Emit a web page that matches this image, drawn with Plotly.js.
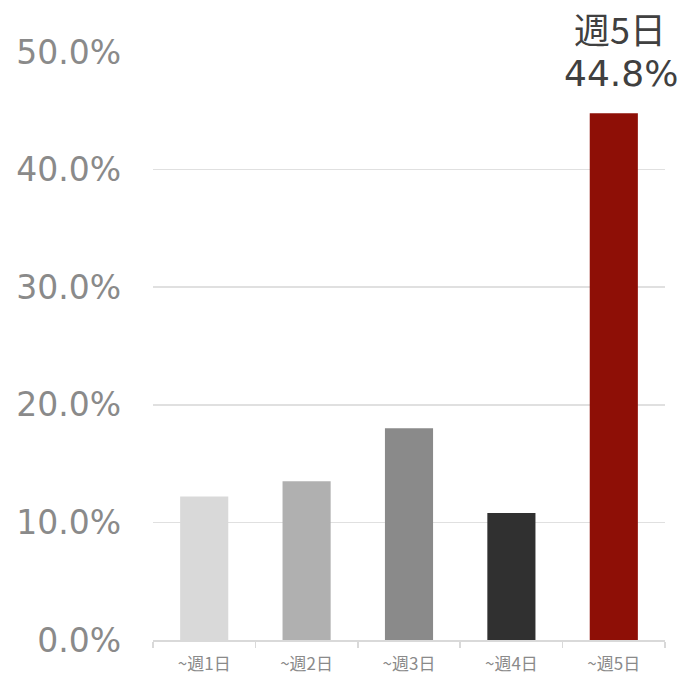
<!DOCTYPE html>
<html>
<head>
<meta charset="utf-8">
<script src="https://cdn.plot.ly/plotly-3.0.1.min.js"></script>
<style>html,body{margin:0;padding:0;background:#fff;}#chart{width:684px;height:674px;}</style>
</head>
<body>
<div id="chart"></div>
<script>
const categories = ["~週1日", "~週2日", "~週3日", "~週4日", "~週5日"];
const values = [12.2, 13.5, 18.0, 10.8, 44.8];
const barColors = ["#d9d9d9", "#b0b0b0", "#8a8a8a", "#303030", "#8e0f06"];
const yTickVals = [0, 10, 20, 30, 40, 50];
const yTickText = ["0.0%", "10.0%", "20.0%", "30.0%", "40.0%", "50.0%"];
const highlightLabel = "週5日";

const trace = {
  type: "bar",
  x: categories,
  y: values,
  marker: {color: barColors},
  width: 0.47,
  hoverinfo: "none"
};

const layout = {
  width: 684,
  height: 674,
  margin: {l: 153, r: 19, t: 52, b: 34, autoexpand: false},
  paper_bgcolor: "#ffffff",
  plot_bgcolor: "#ffffff",
  showlegend: false,
  font: {family: "DejaVu Sans, Verdana, sans-serif", color: "#8a8a8a"},
  xaxis: {
    type: "category",
    range: [-0.5, 4.5],
    automargin: false,
    showline: true,
    linecolor: "#d9d9d9",
    linewidth: 1.5,
    ticks: "outside",
    tickson: "boundaries",
    ticklen: 6,
    tickcolor: "#d9d9d9",
    tickwidth: 1.5,
    tickfont: {family: "Noto Sans CJK JP, sans-serif", size: 17, color: "#8a8a8a"},
    ticklabelstandoff: 8,
    showgrid: false,
    zeroline: false
  },
  yaxis: {
    range: [0, 50],
    automargin: false,
    tickvals: yTickVals,
    ticktext: yTickText,
    tickfont: {family: "DejaVu Sans, Verdana, sans-serif", size: 33, color: "#8a8a8a"},
    showgrid: true,
    gridcolor: "#e0e0e0",
    gridwidth: 1.5,
    zeroline: false,
    showline: false,
    ticks: "",
    ticklabelstandoff: 31
  },
  annotations: [{
    x: categories[4],
    xref: "x",
    y: 1,
    yref: "paper",
    yanchor: "middle",
    xanchor: "center",
    xshift: 6,
    yshift: 24,
    text: highlightLabel,
    showarrow: false,
    font: {family: "Noto Sans CJK JP, sans-serif", size: 36, color: "#404040"}
  }, {
    x: categories[4],
    xref: "x",
    y: 1,
    yref: "paper",
    yanchor: "middle",
    xanchor: "center",
    xshift: 7,
    yshift: -21,
    text: values[4].toFixed(1) + "%",
    showarrow: false,
    font: {family: "DejaVu Sans, Verdana, sans-serif", size: 36, color: "#404040"}
  }]
};

Plotly.newPlot("chart", [trace], layout, {displayModeBar: false, staticPlot: true});
</script>
</body>
</html>
